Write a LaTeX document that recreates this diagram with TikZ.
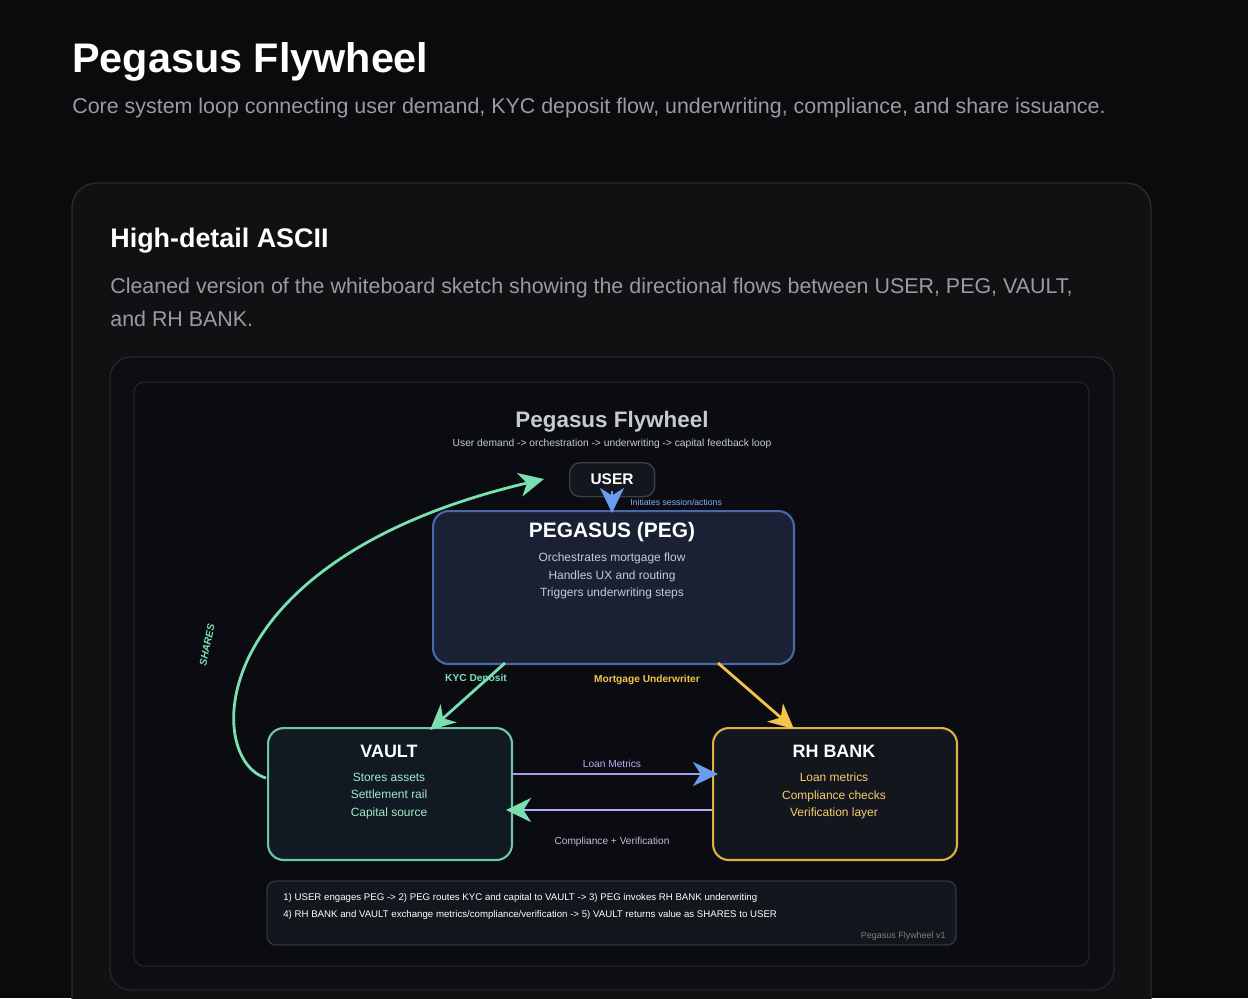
\documentclass[tikz,border=0pt]{standalone}
\usepackage{fontspec}
\setmainfont{Liberation Sans}
\usetikzlibrary{arrows.meta}
\newcommand{\fpx}[1]{\fontsize{\dimexpr#1\dimexpr 0.567pt\relax\relax}{\dimexpr#1\dimexpr 0.68pt\relax\relax}\selectfont}
\definecolor{bg}{HTML}{0B0B0D}
\definecolor{card}{HTML}{111114}
\definecolor{cardb}{HTML}{2A2A2F}
\definecolor{panel}{HTML}{0E0E12}
\definecolor{panelb}{HTML}{24242A}
\definecolor{dia}{HTML}{0A0C12}
\definecolor{diab}{HTML}{1E2230}
\definecolor{pegf}{HTML}{1A2134}
\definecolor{pegb}{HTML}{4A68A8}
\definecolor{vaultf}{HTML}{111A22}
\definecolor{vaultb}{HTML}{6FC7A5}
\definecolor{rhf}{HTML}{13161D}
\definecolor{rhb}{HTML}{E0B040}
\definecolor{grn}{HTML}{7BE0B0}
\definecolor{yel}{HTML}{F5C24A}
\definecolor{blu}{HTML}{6B9CF0}
\definecolor{pur}{HTML}{A89AF0}
\definecolor{gry}{HTML}{9A9AA2}
\definecolor{lgry}{HTML}{C8CAD2}
\tikzset{
  box/.style={draw, rounded corners=9pt, line width=1.2pt, anchor=north west},
  arr/.style={line width=1.6pt, -{Stealth[length=0.5cm,width=0.48cm,inset=0.15cm]}},
  t/.style={text=white, inner sep=0pt},
}
\begin{document}
\begin{tikzpicture}[x=0.02cm,y=-0.02cm]
\fill[bg] (0,0) rectangle (1248,998);
\useasboundingbox (0,0) rectangle (1248,998);
\node[t, anchor=west, font=\fpx{41.5}\bfseries] (title) at (72,62) {Pegasus Flywheel};
\node[t, anchor=west, text=gry, font=\fpx{21.5}] (sub) at (72,108) {Core system loop connecting user demand, KYC deposit flow, underwriting, compliance, and share issuance.};
\draw[cardb, fill=card, rounded corners=14pt, line width=0.8pt] (72,183) rectangle (1151,1030);
\node[t, anchor=west, font=\fpx{27}\bfseries] (h2) at (110,241) {High-detail ASCII};
\node[t, anchor=north west, text=gry, font=\fpx{21.5}, align=left] (desc) at (110,278) {Cleaned version of the whiteboard sketch showing the directional flows between USER, PEG, VAULT,\\[4pt]and RH BANK.};
\draw[panelb, fill=panel, rounded corners=12pt, line width=0.8pt] (110,357) rectangle (1114,990);
\draw[diab, fill=dia, rounded corners=6pt, line width=0.8pt] (134,382) rectangle (1089,966);
\node[t, text=lgry, font=\fpx{22.5}\bfseries] (dtitle) at (612,422) {Pegasus Flywheel};
\node[t, text=lgry, font=\fpx{10.3}] (dsub) at (612,444) {User demand -> orchestration -> underwriting -> capital feedback loop};
% USER
\node[box, draw=diab!70!gray, fill=rhf, rounded corners=6pt, line width=0.8pt, minimum width=1.7cm, minimum height=0.68cm] (user) at (569,462) {};
\node[t, font=\fpx{15.5}\bfseries] (usert) at (612,479) {USER};
% PEG
\node[box, draw=pegb, fill=pegf, minimum width=7.22cm, minimum height=3.06cm] (peg) at (432,510) {};
\node[t, font=\fpx{21}\bfseries] (pegt) at (612,532) {PEGASUS (PEG)};
\node[t, text=lgry, font=\fpx{12}, align=center] (pegd) at (612,576) {Orchestrates mortgage flow\\[2pt]Handles UX and routing\\[2pt]Triggers underwriting steps};
% VAULT
\node[box, draw=vaultb, fill=vaultf, minimum width=4.88cm, minimum height=2.64cm] (vault) at (267,727) {};
\node[t, font=\fpx{18}\bfseries] (vaultt) at (389,751) {VAULT};
\node[t, text=grn!70!white, font=\fpx{12}, align=center] (vaultd) at (389,796) {Stores assets\\[2pt]Settlement rail\\[2pt]Capital source};
% RH BANK
\node[box, draw=rhb, fill=rhf, minimum width=4.88cm, minimum height=2.64cm] (rh) at (712,727) {};
\node[t, font=\fpx{18}\bfseries] (rht) at (834,751) {RH BANK};
\node[t, text=yel!80!white, font=\fpx{12}, align=center] (rhd) at (834,796) {Loan metrics\\[2pt]Compliance checks\\[2pt]Verification layer};
% connectors
\coordinate (ua) at (612,491);
\coordinate (pa) at (612,513);
\draw[arr, blu] (ua) -- (pa);
\node[t, text=blu!80!white, font=\fpx{8.7}, anchor=west] (ul) at (630,502) {Initiates session/actions};
\coordinate (k1) at (505,663);
\coordinate (k2) at (430,730);
\draw[arr, grn] (k1) -- (k2);
\node[t, text=grn, font=\fpx{10.2}\bfseries] (kl) at (476,679) {KYC Deposit};
\coordinate (m1) at (718,663);
\coordinate (m2) at (794,729);
\draw[arr, yel] (m1) -- (m2);
\node[t, text=yel, font=\fpx{10.2}\bfseries] (ml) at (647,680) {Mortgage Underwriter};
\coordinate (l1) at (512,774);
\coordinate (l2) at (718,774);
\draw[line width=1.6pt, pur, -{Stealth[length=0.5cm,width=0.48cm,inset=0.15cm,blu]}] (l1) -- (l2);
\node[t, text=pur!80!white, font=\fpx{10.2}] (ll) at (612,764) {Loan Metrics};
\coordinate (c1) at (712,810);
\coordinate (c2) at (506,810);
\draw[line width=1.6pt, pur!80!white, -{Stealth[length=0.5cm,width=0.48cm,inset=0.15cm,grn]}] (c1) -- (c2);
\node[t, text=lgry!80!pur, font=\fpx{10.2}] (cl) at (612,842) {Compliance + Verification};
% SHARES
\coordinate (s1) at (266,778);
\coordinate (s2) at (544,479);
\draw[arr, grn] (s1) .. controls (205,760) and (200,560) .. (s2);
\node[t, text=grn, font=\fpx{10.2}\bfseries\itshape, rotate=78] (sl) at (207,645) {SHARES};
% footer
\draw[diab!80!gray, fill=rhf, rounded corners=5pt, line width=0.8pt] (267,881) rectangle (956,945);
\node[t, font=\fpx{9.7}, anchor=west, align=left] (f1) at (283,898) {1) USER engages PEG -> 2) PEG routes KYC and capital to VAULT -> 3) PEG invokes RH BANK underwriting};
\node[t, font=\fpx{9.7}, anchor=west, align=left] (f2) at (283,915) {4) RH BANK and VAULT exchange metrics/compliance/verification -> 5) VAULT returns value as SHARES to USER};
\node[t, text=gray, font=\fpx{9}, anchor=east] (f3) at (946,936) {Pegasus Flywheel v1};
\end{tikzpicture}
\end{document}
